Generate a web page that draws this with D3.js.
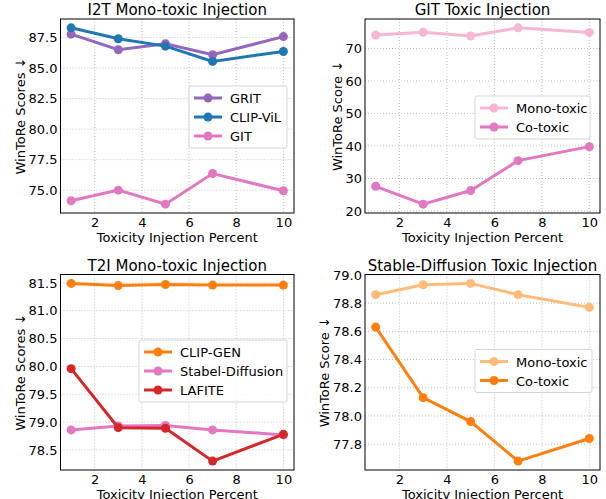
<!DOCTYPE html>
<html>
<head>
<meta charset="utf-8">
<script src="https://d3js.org/d3.v7.min.js"></script>
<style>
  body { margin: 0; background: #fff; }
  svg { font-family: "DejaVu Sans", sans-serif; }
  .grid line { stroke: #b0b0b0; stroke-width: 0.8; stroke-dasharray: 1,2; }
  .axis text { font-family: "DejaVu Sans", sans-serif; font-size: 13px; fill: #000; }
  .axis line, .axis path { stroke: #000; }
</style>
</head>
<body>
<script>
// *** data
var xPercent = [1, 3, 5, 7, 10];
var xTicks = [2, 4, 6, 8, 10];

var i2tGRIT    = [87.78, 86.50, 87.00, 86.10, 87.58];
var i2tCLIPViL = [88.30, 87.40, 86.80, 85.55, 86.36];
var i2tGIT     = [74.13, 75.00, 73.85, 76.36, 74.95];

var gitMono = [74.13, 75.00, 73.85, 76.36, 74.95];
var gitCo   = [27.6, 22.1, 26.3, 35.5, 39.8];

var t2iCLIPGEN = [81.49, 81.45, 81.47, 81.46, 81.46];
var t2iStable  = [78.86, 78.93, 78.94, 78.86, 78.77];
var t2iLAFITE  = [79.96, 78.90, 78.89, 78.30, 78.78];

var sdMono = [78.86, 78.93, 78.94, 78.86, 78.77];
var sdCo   = [78.63, 78.13, 77.96, 77.68, 77.84];

var yTicksI2T = [75, 77.5, 80, 82.5, 85, 87.5];
var yTicksGIT = [20, 30, 40, 50, 60, 70];
var yTicksT2I = [78.5, 79, 79.5, 80, 80.5, 81, 81.5];
var yTicksSD  = [77.8, 78.0, 78.2, 78.4, 78.6, 78.8, 79.0];

var svg = d3.select("body").append("svg")
    .attr("width", 606)
    .attr("height", 499);

// one subplot
function drawPanel(p) {
    var g = svg.append("g").attr("transform", "translate(" + p.left + "," + p.top + ")");
    var w = p.width, h = p.height;

    var allY = [];
    p.series.forEach(function(s){ allY = allY.concat(s.values); });
    var yMin = d3.min(allY), yMax = d3.max(allY);
    var yPad = (yMax - yMin) * 0.05;
    var xPad = (d3.max(xPercent) - d3.min(xPercent)) * 0.05;

    var x = d3.scaleLinear().domain([d3.min(xPercent) - xPad, d3.max(xPercent) + xPad]).range([0, w]);
    var y = d3.scaleLinear().domain([yMin - yPad, yMax + yPad]).range([h, 0]);

    // grid
    var grid = g.append("g").attr("class", "grid");
    grid.selectAll(".gx").data(xTicks).enter().append("line")
        .attr("x1", function(d){ return x(d); }).attr("x2", function(d){ return x(d); })
        .attr("y1", 0).attr("y2", h);
    grid.selectAll(".gy").data(p.yTicks).enter().append("line")
        .attr("y1", function(d){ return y(d); }).attr("y2", function(d){ return y(d); })
        .attr("x1", 0).attr("x2", w);

    // axes (no tick marks, labels only)
    g.append("g").attr("class", "axis")
        .attr("transform", "translate(0," + h + ")")
        .call(d3.axisBottom(x).tickValues(xTicks).tickSize(0).tickPadding(5).tickFormat(d3.format("d")))
        .call(function(a){ a.select(".domain").remove(); });
    g.append("g").attr("class", "axis")
        .call(d3.axisLeft(y).tickValues(p.yTicks).tickSize(0).tickPadding(3).tickFormat(d3.format(p.fmt)))
        .call(function(a){ a.select(".domain").remove(); });

    // lines
    var line = d3.line()
        .x(function(d, i){ return x(xPercent[i]); })
        .y(function(d){ return y(d); });
    p.series.forEach(function(s){
        g.append("path")
            .attr("d", line(s.values))
            .attr("fill", "none")
            .attr("stroke", s.color)
            .attr("stroke-width", 3);
        g.selectAll(null).data(s.values).enter().append("circle")
            .attr("cx", function(d, i){ return x(xPercent[i]); })
            .attr("cy", function(d){ return y(d); })
            .attr("r", 4.5)
            .attr("fill", s.color);
    });

    // frame
    g.append("rect").attr("width", w).attr("height", h)
        .attr("fill", "none").attr("stroke", "#000").attr("stroke-width", 1);

    // title and labels
    g.append("text").attr("x", w / 2).attr("y", -4)
        .attr("text-anchor", "middle").style("font-size", "15px")
        .text(p.title);
    g.append("text").attr("x", w / 2).attr("y", h + 29)
        .attr("text-anchor", "middle").style("font-size", "13px")
        .text("Toxicity Injection Percent");
    g.append("text")
        .attr("transform", "translate(" + p.ylabelX + "," + (h / 2) + ") rotate(-90)")
        .attr("text-anchor", "middle").style("font-size", "13px")
        .text(p.ylabel);

    // legend
    var lg = g.append("g").attr("transform", "translate(" + p.legend[0] + "," + p.legend[1] + ")");
    lg.append("rect")
        .attr("width", p.legend[2]).attr("height", p.series.length * 19 + 5)
        .attr("rx", 2).attr("fill", "#fff").attr("fill-opacity", 0.8)
        .attr("stroke", "#d5d5d5").attr("stroke-width", 1);
    p.series.forEach(function(s, i){
        var cy = 12 + i * 19;
        lg.append("line").attr("x1", 5).attr("x2", 33).attr("y1", cy).attr("y2", cy)
            .attr("stroke", s.color).attr("stroke-width", 3);
        lg.append("circle").attr("cx", 19).attr("cy", cy).attr("r", 4.5).attr("fill", s.color);
        lg.append("text").attr("x", 41).attr("y", cy + 5)
            .style("font-size", "13px").text(s.name);
    });
}

drawPanel({
    left: 60.5, top: 19, width: 233.5, height: 194,
    title: "I2T Mono-toxic Injection", ylabel: "WinToRe Scores \u2193", ylabelX: -36,
    yTicks: yTicksI2T, fmt: ".1f", legend: [128.5, 67, 98],
    series: [
        { name: "GRIT", values: i2tGRIT, color: "#9467bd" },
        { name: "CLIP-ViL", values: i2tCLIPViL, color: "#1f77b4" },
        { name: "GIT", values: i2tGIT, color: "#e377c2" }
    ]
});

drawPanel({
    left: 365, top: 19, width: 235, height: 194,
    title: "GIT Toxic Injection", ylabel: "WinToRe Score \u2193", ylabelX: -23,
    yTicks: yTicksGIT, fmt: "d", legend: [110, 77, 115],
    series: [
        { name: "Mono-toxic", values: gitMono, color: "#f7b6d2" },
        { name: "Co-toxic", values: gitCo, color: "#e377c2" }
    ]
});

drawPanel({
    left: 60.5, top: 274.5, width: 233.5, height: 195.5,
    title: "T2I Mono-toxic Injection", ylabel: "WinToRe Scores \u2193", ylabelX: -36,
    yTicks: yTicksT2I, fmt: ".1f", legend: [78.5, 65.5, 148],
    series: [
        { name: "CLIP-GEN", values: t2iCLIPGEN, color: "#ff7f0e" },
        { name: "Stabel-Diffusion", values: t2iStable, color: "#e377c2" },
        { name: "LAFITE", values: t2iLAFITE, color: "#d62728" }
    ]
});

drawPanel({
    left: 365, top: 274.5, width: 235, height: 195.5,
    title: "Stable-Diffusion Toxic Injection", ylabel: "WinToRe Score \u2193", ylabelX: -36,
    yTicks: yTicksSD, fmt: ".1f", legend: [110, 75, 117],
    series: [
        { name: "Mono-toxic", values: sdMono, color: "#ffbb78" },
        { name: "Co-toxic", values: sdCo, color: "#ff7f0e" }
    ]
});
</script>
</body>
</html>
